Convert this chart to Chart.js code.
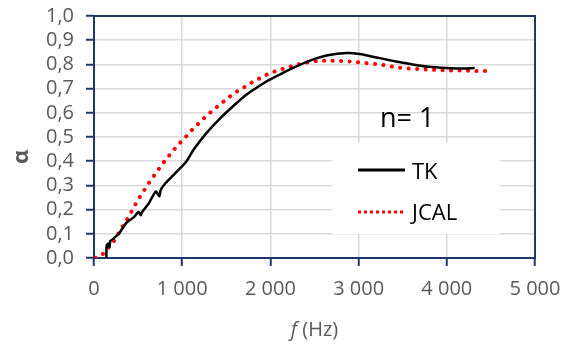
<!DOCTYPE html>
<html>
<head>
<meta charset="utf-8">
<script src="https://cdn.jsdelivr.net/npm/chart.js@4.4.0/dist/chart.umd.min.js"></script>
<style>
  body { margin: 0; background: #fff; }
  #wrap { width: 564px; height: 344px; }
</style>
</head>
<body>
<div id="wrap"><canvas id="alphaChart"></canvas></div>
<script>
// measured TK curve (frequency in Hz, absorption coefficient)
const tkFreq = [140, 143, 160, 175, 185, 215, 280, 367, 450, 505, 530, 545, 620, 700, 740, 755, 800, 900,
  980, 1050, 1130, 1274, 1417, 1576, 1727, 1878, 1992, 2143, 2294, 2480, 2650, 2865, 3010, 3237, 3420,
  3614, 3800, 3997, 4150, 4316];
const tkAlpha = [0.0, 0.05, 0.06, 0.045, 0.07, 0.078, 0.1, 0.145, 0.168, 0.19, 0.177, 0.19, 0.225, 0.275,
  0.255, 0.28, 0.305, 0.342, 0.372, 0.40, 0.448, 0.516, 0.572, 0.627, 0.675, 0.712, 0.737, 0.765, 0.792,
  0.82, 0.838, 0.847, 0.843, 0.826, 0.812, 0.80, 0.79, 0.785, 0.783, 0.785];

// JCAL model
const jcalFreq = [16, 102, 166, 227, 280, 329, 379, 427, 477, 526, 578, 632, 688, 745, 800, 862, 926, 991,
  1059, 1123, 1195, 1263, 1334, 1410, 1485, 1565, 1644, 1728, 1811, 1898, 1984, 2075, 2165, 2256, 2350,
  2446, 2548, 2646, 2740, 2839, 2937, 3035, 3130, 3228, 3322, 3424, 3519, 3617, 3712, 3806, 3908, 4003,
  4100, 4195, 4297, 4399, 4494];
const jcalAlpha = [0.0, 0.017, 0.044, 0.071, 0.103, 0.133, 0.162, 0.193, 0.226, 0.256, 0.285, 0.315, 0.344,
  0.373, 0.40, 0.428, 0.456, 0.482, 0.508, 0.534, 0.559, 0.583, 0.606, 0.629, 0.651, 0.674, 0.693, 0.711,
  0.730, 0.746, 0.762, 0.774, 0.784, 0.794, 0.803, 0.81, 0.814, 0.815, 0.815, 0.814, 0.811, 0.807, 0.804,
  0.80, 0.795, 0.788, 0.784, 0.782, 0.78, 0.778, 0.777, 0.775, 0.775, 0.775, 0.773, 0.773, 0.773];

const seriesNames = ["TK", "JCAL"];
const annotation = "n= 1";

const NAVY = "#203864";
const GRID = "#d9d9d9";
const LABEL = "#595959";
const FONT = "'Open Sans', sans-serif";

const toPoints = (xs, ys) => xs.map((x, i) => ({ x: x, y: ys[i] }));

// box, legend and titles drawn on the canvas
const extras = {
  id: "extras",
  beforeDatasetsDraw(chart) {
    const { ctx, chartArea: a } = chart;
    ctx.save();
    // legend background
    ctx.fillStyle = "#fff";
    ctx.fillRect(332, 143, 168, 91);
    // frame
    ctx.strokeStyle = NAVY;
    ctx.lineWidth = 2;
    ctx.strokeRect(a.left, a.top, a.right - a.left, a.bottom - a.top);
    ctx.restore();
  },
  afterDraw(chart) {
    const { ctx, chartArea: a } = chart;
    ctx.save();
    ctx.fillStyle = "#000";
    ctx.textBaseline = "alphabetic";
    ctx.font = "27px " + FONT;
    ctx.fillText(annotation, 380, 127);

    // legend
    ctx.lineWidth = 3;
    ctx.strokeStyle = "#000";
    ctx.beginPath();
    ctx.moveTo(358, 170);
    ctx.lineTo(405, 170);
    ctx.stroke();
    ctx.strokeStyle = "#ff0000";
    ctx.setLineDash([3, 3]);
    ctx.beginPath();
    ctx.moveTo(358, 212);
    ctx.lineTo(405, 212);
    ctx.stroke();
    ctx.setLineDash([]);
    ctx.font = "22px " + FONT;
    ctx.fillText(seriesNames[0], 412, 179);
    ctx.fillText(seriesNames[1], 412, 220);

    // axis titles
    ctx.fillStyle = LABEL;
    ctx.font = "italic 20px " + FONT;
    const fW = ctx.measureText("f").width;
    ctx.font = "20px " + FONT;
    const hzW = ctx.measureText(" (Hz)").width;
    const x0 = (a.left + a.right) / 2 - (fW + hzW) / 2;
    ctx.font = "italic 20px " + FONT;
    ctx.fillText("f", x0, 336);
    ctx.font = "20px " + FONT;
    ctx.fillText(" (Hz)", x0 + fW, 336);

    ctx.translate(22, 157);
    ctx.rotate(-Math.PI / 2);
    ctx.font = "bold 22px " + FONT;
    ctx.textAlign = "center";
    ctx.textBaseline = "middle";
    ctx.fillText("α", 0, 0);
    ctx.restore();
  }
};

new Chart(document.getElementById("alphaChart"), {
  type: "line",
  data: {
    datasets: [
      {
        label: seriesNames[0],
        data: toPoints(tkFreq, tkAlpha),
        borderColor: "#000",
        borderWidth: 2.5,
        pointRadius: 0,
        tension: 0.2
      },
      {
        label: seriesNames[1],
        data: toPoints(jcalFreq, jcalAlpha),
        borderColor: "#ff0000",
        borderWidth: 4,
        borderDash: [0.1, 8.4],
        borderCapStyle: "round",
        pointRadius: 0,
        tension: 0.3
      }
    ]
  },
  options: {
    responsive: true,
    maintainAspectRatio: false,
    animation: false,
    layout: { padding: { left: 0, top: 16, right: 29, bottom: 0 } },
    plugins: { legend: { display: false }, tooltip: { enabled: false } },
    scales: {
      x: {
        type: "linear",
        min: 0,
        max: 5000,
        afterFit: axis => {
          axis.height = 86;
          axis.paddingLeft = 0;
          axis.paddingRight = 0;
        },
        ticks: {
          stepSize: 1000,
          color: LABEL,
          font: { family: FONT, size: 20 },
          padding: 11,
          maxRotation: 0,
          autoSkip: false,
          callback: v => String(v).replace(/\B(?=(\d{3})+(?!\d))/g, " ")
        },
        grid: { color: GRID, lineWidth: 1.5, tickColor: NAVY, tickLength: 8, tickWidth: 2 },
        border: { display: false }
      },
      y: {
        min: 0,
        max: 1,
        afterFit: axis => {
          axis.width = 94;
          axis.paddingTop = 0;
          axis.paddingBottom = 0;
        },
        ticks: {
          stepSize: 0.1,
          color: LABEL,
          font: { family: FONT, size: 20 },
          padding: 12,
          autoSkip: false,
          callback: v => v.toFixed(1).replace(".", ",")
        },
        grid: { color: GRID, lineWidth: 1.5, tickColor: NAVY, tickLength: 8, tickWidth: 2 },
        border: { display: false }
      }
    }
  },
  plugins: [extras]
});
</script>
</body>
</html>
